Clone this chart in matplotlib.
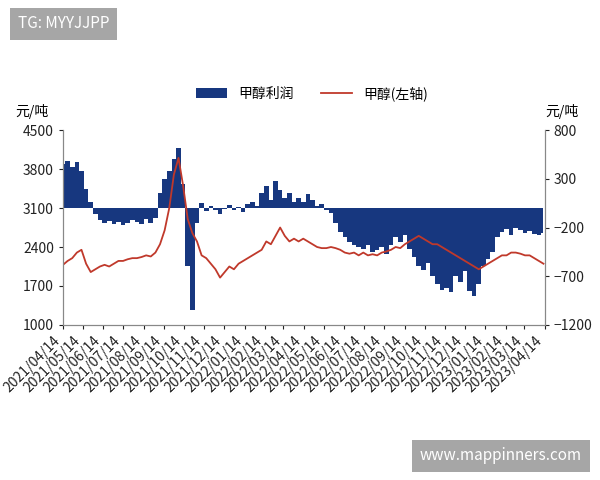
import matplotlib
matplotlib.use("Agg")
import matplotlib.pyplot as plt
import pandas as pd

plt.rcParams['font.family'] = ['Noto Sans CJK SC', 'DejaVu Sans']

profit = [450, 480, 420,
          470, 380, 200, 60,
          -60, -120, -150, -130,
          -160, -140, -170, -150, -120,
          -140, -160, -110, -150,
          -100, 150, 300, 380,
          500, 620, 250, -600, -1050,
          -150, 50, -30, 20,
          -20, -60, -10, 30, -20,
          10, -40, 40, 60,
          20, 150, 230, 80,
          280, 180, 100, 150, 60,
          100, 60, 140, 80,
          20, 40, -20, -50,
          -150, -250, -300, -350, -380,
          -400, -420, -380, -450,
          -430, -400, -470, -380,
          -300, -350, -280, -420, -500,
          -600, -640, -560, -700,
          -780, -840, -820, -860,
          -700, -760, -650, -850, -900,
          -780, -600, -520, -450,
          -300, -250, -220, -280,
          -200, -230, -260, -240, -270,
          -280, -260]
price = [2080, 2150, 2200,
         2300, 2350, 2100, 1950,
         2000, 2050, 2080, 2050,
         2100, 2150, 2150, 2180, 2200,
         2200, 2220, 2250, 2230,
         2300, 2450, 2700, 3100,
         3700, 4000, 3500, 2900, 2650,
         2500, 2250, 2200, 2100,
         2000, 1850, 1950, 2050, 2000,
         2100, 2150, 2200, 2250,
         2300, 2350, 2500, 2450,
         2600, 2750, 2600, 2500, 2550,
         2500, 2550, 2500, 2450,
         2400, 2380, 2380, 2400,
         2380, 2350, 2300, 2280, 2300,
         2250, 2300, 2250, 2270,
         2250, 2300, 2320, 2350,
         2400, 2380, 2450, 2500, 2550,
         2600, 2550, 2500, 2450,
         2450, 2400, 2350, 2300,
         2250, 2200, 2150, 2100, 2050,
         2000, 2050, 2100, 2150,
         2200, 2250, 2250, 2300,
         2300, 2280, 2250, 2250, 2200,
         2150, 2100]
dates = pd.date_range('2021-04-14', periods=len(profit), freq='W-WED')
tick_dates = pd.date_range('2021-04-01', '2023-04-01', freq='MS') + pd.Timedelta(days=13)
tick_labels = [d.strftime('%Y/%m/%d') for d in tick_dates]

fig = plt.figure(figsize=(6, 4.8), dpi=100)
ax = fig.add_axes([0.105, 0.323, 0.803, 0.406])
ax2 = ax.twinx()
ax.set_zorder(ax2.get_zorder() + 1)
ax.patch.set_visible(False)

ax2.fill_between(dates, 0, profit, color='#17377f', step='mid', linewidth=0, label='甲醇利润')
ax2.set_ylim(-1200, 800)
ax2.set_yticks([-1200, -700, -200, 300, 800])
ax.plot(dates, price, color='#c0392b', lw=1.3, label='甲醇(左轴)')
ax.set_ylim(1000, 4500)
ax.set_yticks([1000, 1700, 2400, 3100, 3800, 4500])
ax.set_xlim(pd.Timestamp('2021-04-14'), pd.Timestamp('2023-04-14'))
ax.set_xticks(tick_dates)
ax.set_xticklabels(tick_labels, rotation=45, ha='right', fontsize=10, color='#222')
for a in (ax, ax2):
    a.tick_params(labelsize=10, colors='#222', length=3)
    a.spines['top'].set_visible(False)
    for s in a.spines.values():
        s.set_color('#888')

ax.text(-0.1, 1.07, '元/吨', transform=ax.transAxes, fontsize=10)
ax2.text(1.0, 1.07, '元/吨', transform=ax2.transAxes, fontsize=10)
h1, l1 = ax2.get_legend_handles_labels()
h2, l2 = ax.get_legend_handles_labels()
fig.legend(h1 + h2, l1 + l2, loc='center', bbox_to_anchor=(0.52, 0.805), ncol=2,
           frameon=False, fontsize=10, handlelength=2.2)

fig.text(0.03, 0.95, 'TG: MYYJJPP', fontsize=11, color='white', va='center',
         bbox=dict(boxstyle='square,pad=0.5', fc='#a6a6a6', ec='none'))
fig.text(0.7, 0.05, 'www.mappinners.com', fontsize=11, color='white', va='center',
         bbox=dict(boxstyle='square,pad=0.5', fc='#a6a6a6', ec='none'))
fig.savefig('out.png', dpi=100)
